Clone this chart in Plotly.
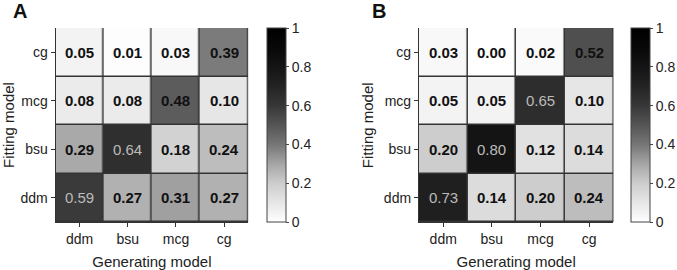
import plotly.graph_objects as go

models = ["ddm", "bsu", "mcg", "cg"]
# rows = fitting model (ddm, bsu, mcg, cg), cols = generating model
z_a = [
    [0.59, 0.27, 0.31, 0.27],
    [0.29, 0.64, 0.18, 0.24],
    [0.08, 0.08, 0.48, 0.10],
    [0.05, 0.01, 0.03, 0.39],
]
z_b = [
    [0.73, 0.14, 0.20, 0.24],
    [0.20, 0.80, 0.12, 0.14],
    [0.05, 0.05, 0.65, 0.10],
    [0.03, 0.00, 0.02, 0.52],
]
cbar_ticks = [0, 0.2, 0.4, 0.6, 0.8, 1]
cbar_labels = ["0", "0.2", "0.4", "0.6", "0.8", "1"]

W, H = 677, 270
FONT = "Liberation Sans, Arial, sans-serif"

gray_levels = [255, 230, 205, 165, 118, 85, 55, 35, 20, 8, 0]
stops = [[i / 10, f"rgb({g},{g},{g})"] for i, g in enumerate(gray_levels)]

def px_x(p):
    return p / W

def px_y(p):
    return 1 - p / H

fig = go.Figure()

panels = [
    dict(z=z_a, x0=56, x1=250, cb=269, label="A", lx=20, tx=8, ax="x", ay="y", ca="coloraxis"),
    dict(z=z_b, x0=422, x1=618, cb=636, label="B", lx=382, tx=370, ax="x2", ay="y2", ca="coloraxis2"),
]
y0, y1 = 28, 222

annotations = []
layout = {}
for i, p in enumerate(panels):
    fig.add_trace(go.Heatmap(
        z=p["z"], x=models, y=models, coloraxis=p["ca"],
        xgap=1.5, ygap=1.5, xaxis=p["ax"], yaxis=p["ay"], hoverinfo="skip",
    ))
    sfx = "" if i == 0 else "2"
    layout["xaxis" + sfx] = dict(
        domain=[px_x(p["x0"]), px_x(p["x1"])], anchor="y" + sfx,
        showline=True, linecolor="#333", linewidth=1, ticks="outside", ticklen=4,
        tickcolor="#333", tickfont=dict(size=14, color="#222", family=FONT),
        title=dict(text="Generating model", font=dict(size=15, color="#222", family=FONT), standoff=10),
        showgrid=False, zeroline=False, range=[-0.5, 3.5], fixedrange=True,
    )
    layout["yaxis" + sfx] = dict(
        domain=[px_y(y1), px_y(y0)], anchor="x" + sfx,
        showline=True, linecolor="#333", linewidth=1, ticks="outside", ticklen=4,
        tickcolor="#333", tickfont=dict(size=14, color="#222", family=FONT),
        showgrid=False, zeroline=False, range=[-0.5, 3.5],
    )
    layout[p["ca"]] = dict(
        cmin=0, cmax=1, colorscale=stops,
        colorbar=dict(
            x=px_x(p["cb"]), xanchor="left", xref="paper",
            y=px_y((y0 + y1) / 2), yanchor="middle",
            len=y1 - y0, lenmode="pixels", thickness=19, thicknessmode="pixels",
            outlinecolor="#444", outlinewidth=1,
            tickvals=cbar_ticks, ticktext=cbar_labels, ticks="outside", ticklen=3,
            tickcolor="#444", tickfont=dict(size=14, color="#222", family=FONT),
            xpad=0, ypad=0,
        ),
    )
    for r, row in enumerate(p["z"]):
        for c, v in enumerate(row):
            dark = v > 0.55
            annotations.append(dict(
                x=models[c], y=models[r], xref=p["ax"], yref=p["ay"],
                text=f"{v:.2f}" if dark else f"<b>{v:.2f}</b>",
                showarrow=False,
                font=dict(size=15, family=FONT, color="#bbbbbb" if dark else "#111"),
            ))
    annotations.append(dict(
        x=px_x(p["lx"]), y=px_y(11), xref="paper", yref="paper",
        text=f"<b>{p['label']}</b>", showarrow=False, xanchor="center", yanchor="middle",
        font=dict(size=20, family=FONT, color="#111"),
    ))
    annotations.append(dict(
        x=px_x(p["tx"]), y=px_y((y0 + y1) / 2), xref="paper", yref="paper",
        text="Fitting model", showarrow=False, textangle=-90,
        xanchor="center", yanchor="middle",
        font=dict(size=15, family=FONT, color="#222"),
    ))

fig.update_layout(
    width=W, height=H, margin=dict(l=0, r=0, t=0, b=0),
    paper_bgcolor="white", plot_bgcolor="#333333",
    annotations=annotations, showlegend=False, **layout,
)
fig.write_html("out.html")
